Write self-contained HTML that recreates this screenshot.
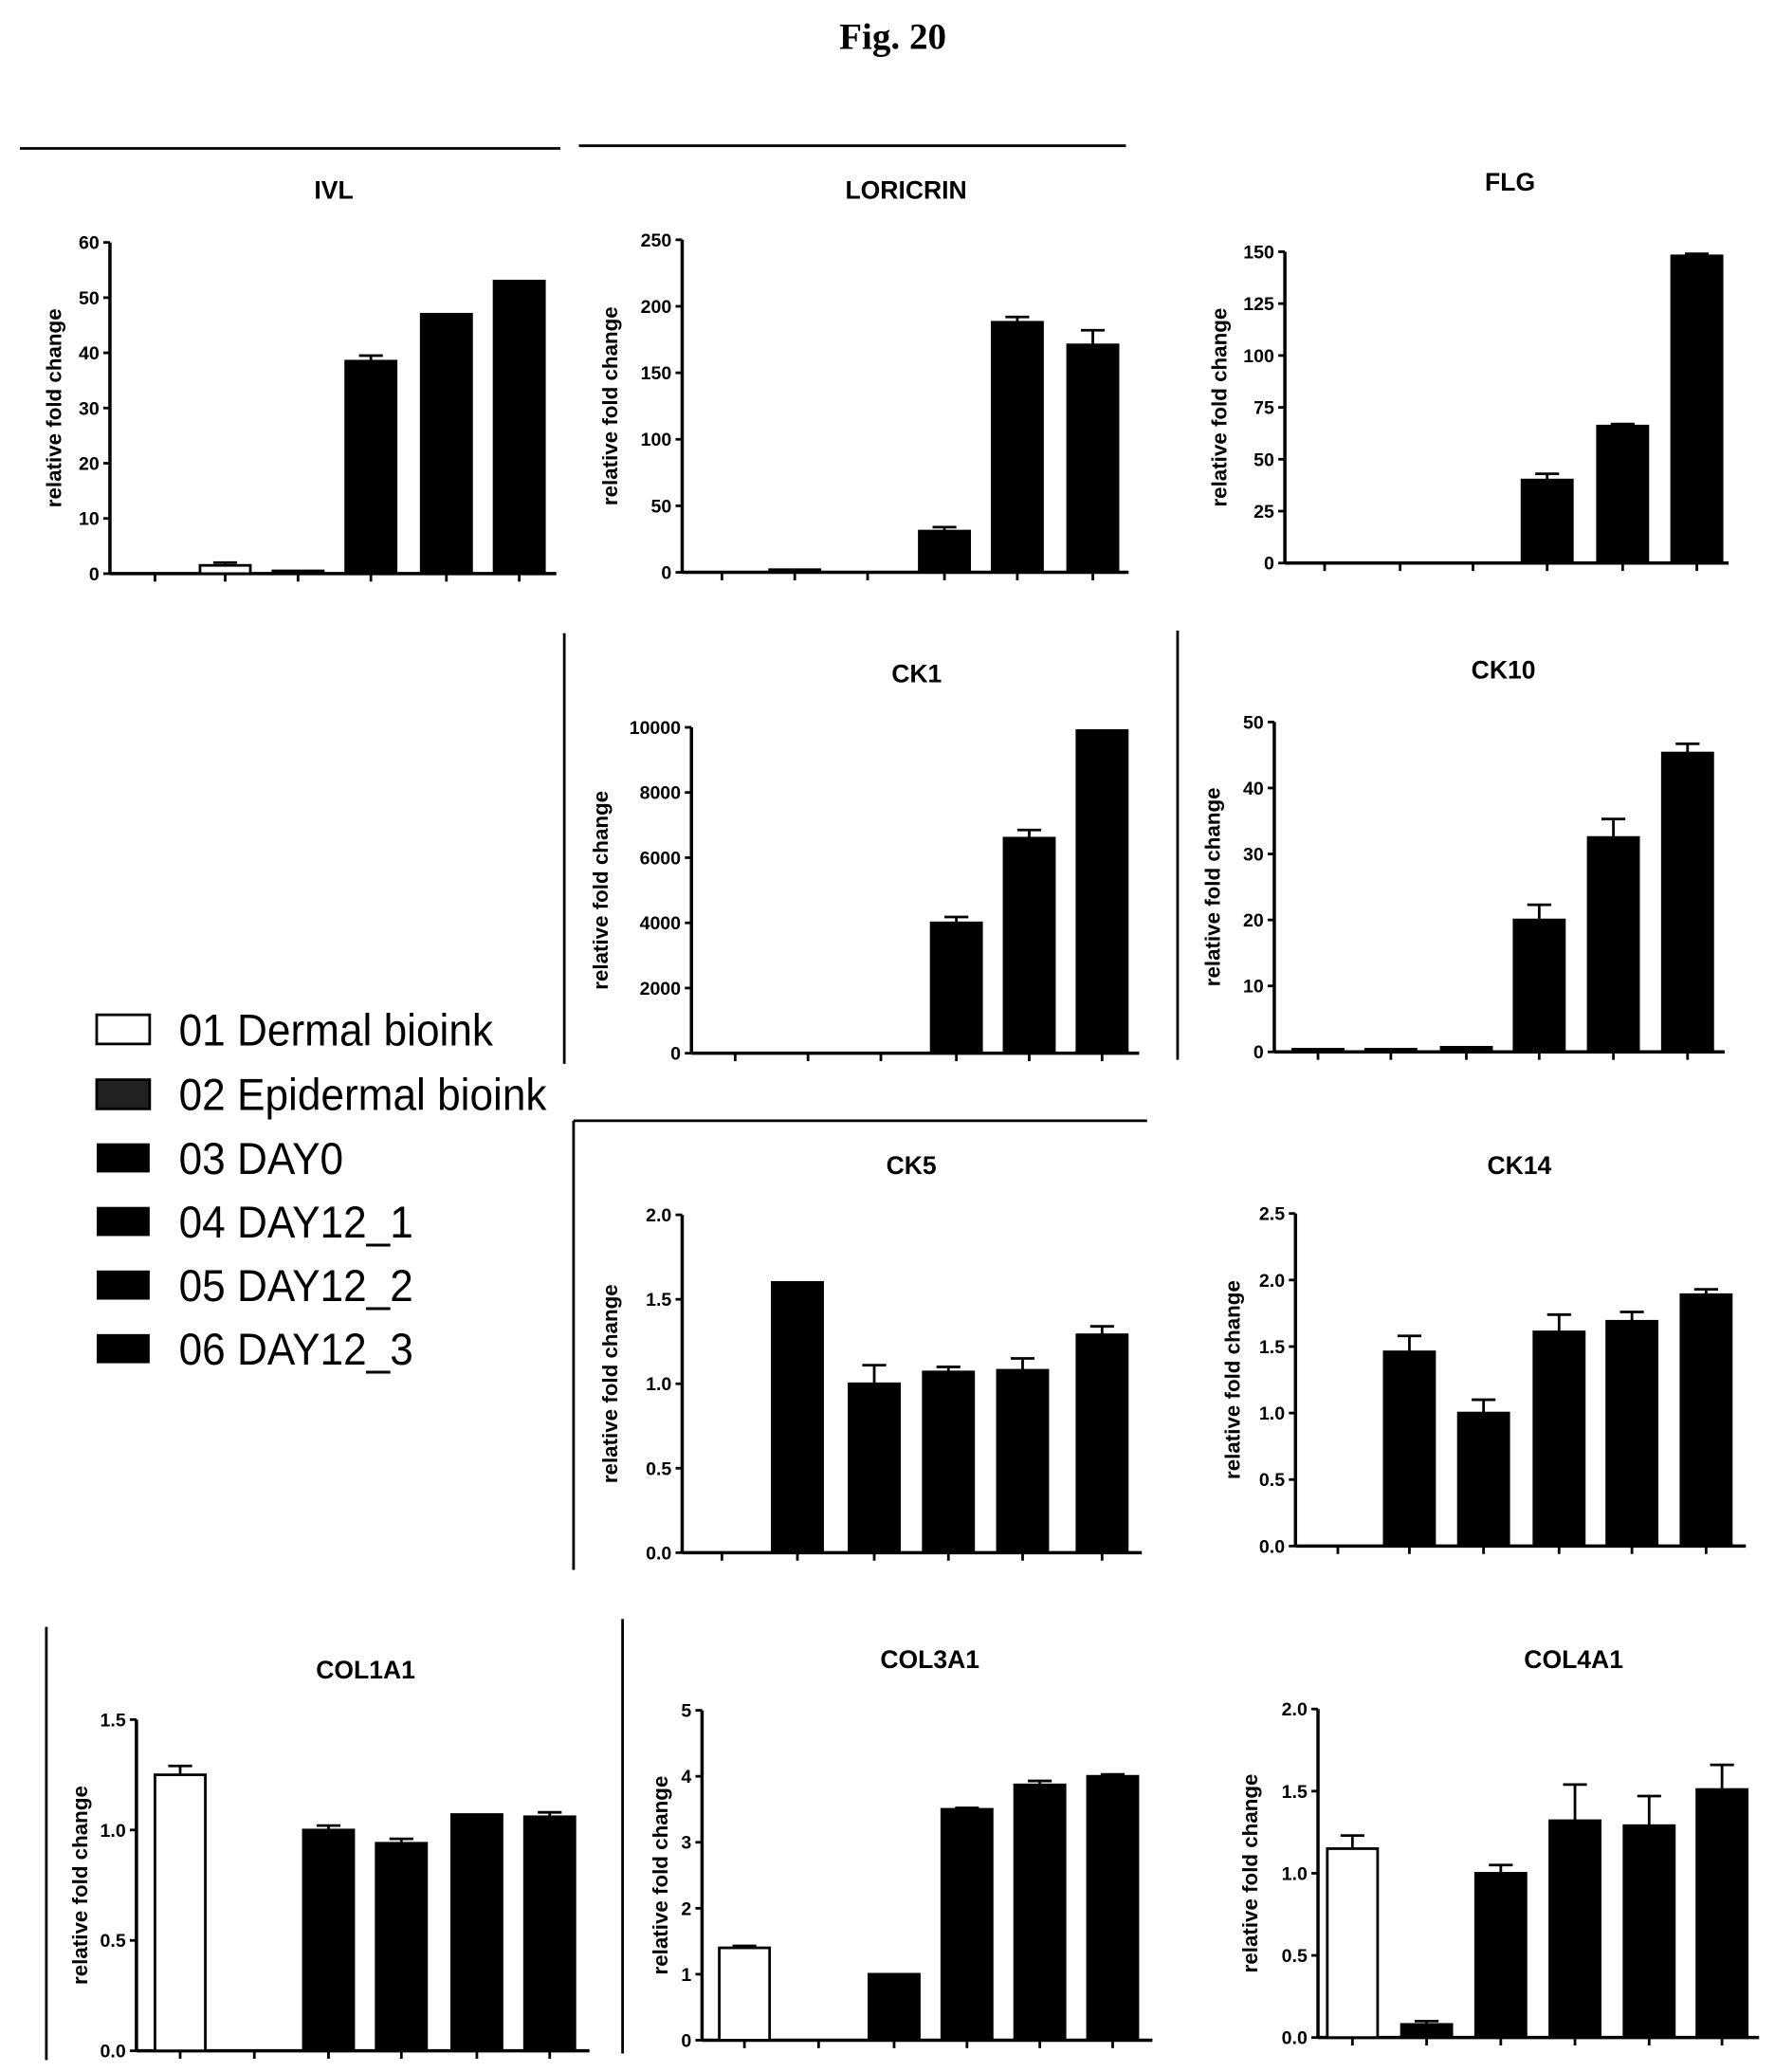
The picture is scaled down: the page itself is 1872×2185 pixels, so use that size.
<!DOCTYPE html>
<html><head><meta charset="utf-8"><style>
html,body{margin:0;padding:0;background:#fff}
svg{display:block}
</style></head><body>
<svg id="s" width="1872" height="2185" viewBox="0 0 1340 1564" preserveAspectRatio="none" xmlns="http://www.w3.org/2000/svg" font-family="'Liberation Sans', sans-serif">
<rect width="1340" height="1564" fill="#fff"/>
<text x="674" y="37" font-family="'Liberation Serif', serif" font-weight="bold" font-size="28" text-anchor="middle">Fig. 20</text>
<g stroke="#000" stroke-width="2">
<line x1="15" y1="112" x2="423" y2="112"/>
<line x1="437" y1="110" x2="850" y2="110"/>
<line x1="426" y1="478" x2="426" y2="803"/>
<line x1="889" y1="476" x2="889" y2="800"/>
<line x1="433" y1="846" x2="866" y2="846"/>
<line x1="433" y1="846" x2="433" y2="1185"/>
<line x1="35" y1="1228" x2="35" y2="1555"/>
<line x1="470" y1="1222" x2="470" y2="1550"/>
</g>
<rect x="73" y="766" width="40" height="22" fill="#fff" stroke="#000" stroke-width="2"/>
<rect x="73" y="815" width="40" height="22" fill="#222" stroke="#000" stroke-width="2"/>
<rect x="73" y="863" width="40" height="22" fill="#000"/>
<rect x="73" y="911" width="40" height="22" fill="#000"/>
<rect x="73" y="959" width="40" height="22" fill="#000"/>
<rect x="73" y="1007" width="40" height="22" fill="#000"/>
<g font-size="34" transform="translate(135,0) scale(0.93,1)">
<text x="0" y="789">01 Dermal bioink</text>
<text x="0" y="838">02 Epidermal bioink</text>
<text x="0" y="886">03 DAY0</text>
<text x="0" y="934">04 DAY12_1</text>
<text x="0" y="982">05 DAY12_2</text>
<text x="0" y="1030">06 DAY12_3</text>
</g>
<g id="charts"></g>
</svg>
<script>
var charts=[
{t:"IVL",ax:83,top:183,bot:433,max:60,step:10,xend:420,tx:252,ty:150,lx:46,c:[117,170,225,280,337,392],v:[0,1.5,0.5,38.5,47,53],e:[0,0.5,0,1,0,0],w:[0,1,0,0,0,0]},
{t:"LORICRIN",ax:515,top:181,bot:432,max:250,step:50,xend:852,tx:684,ty:150,lx:466,c:[545,600,655,713,768,825],v:[0,1,0,31,188,171],e:[0,0,0,3,4,11],w:[0,0,0,0,0,0]},
{t:"FLG",ax:970,top:190,bot:425,max:150,step:25,xend:1305,tx:1140,ty:144,lx:926,c:[1000,1057,1112,1168,1225,1281],v:[0,0,0,40,66,148],e:[0,0,0,3,1,1],w:[0,0,0,0,0,0]},
{t:"CK1",ax:522,top:549,bot:795,max:10000,step:2000,xend:860,tx:692,ty:515,lx:459,c:[555,610,665,722,777,832],v:[0,0,0,4000,6600,9900],e:[0,0,0,180,250,0],w:[0,0,0,0,0,0]},
{t:"CK10",ax:962,top:545,bot:794,max:50,step:10,xend:1302,tx:1135,ty:512,lx:921,c:[995,1050,1107,1162,1218,1274],v:[0.3,0.2,0.7,20,32.5,45.3],e:[0,0,0,2.3,2.8,1.4],w:[0,0,0,0,0,0]},
{t:"CK5",ax:515,top:917,bot:1172,max:2,step:0.5,xend:862,tx:688,ty:886,lx:466,c:[545,602,660,716,772,832],v:[0,1.6,1.0,1.07,1.08,1.29],e:[0,0,0.11,0.03,0.07,0.05],w:[0,0,0,0,0,0]},
{t:"CK14",ax:978,top:916,bot:1167,max:2.5,step:0.5,xend:1318,tx:1147,ty:886,lx:936,c:[1010,1064,1120,1177,1232,1288],v:[0,1.46,1.0,1.61,1.69,1.89],e:[0,0.12,0.1,0.13,0.07,0.04],w:[0,0,0,0,0,0]},
{t:"COL1A1",ax:103,top:1298,bot:1548,max:1.5,step:0.5,xend:445,tx:276,ty:1267,lx:66,c:[136,192,248,303,360,415],v:[1.25,0,1.0,0.94,1.07,1.06],e:[0.04,0,0.02,0.02,0,0.02],w:[1,0,0,0,0,0]},
{t:"COL3A1",ax:530,top:1291,bot:1540,max:5,step:1,xend:870,tx:702,ty:1259,lx:504,c:[562,618,675,730,785,840],v:[1.4,0,1.0,3.5,3.87,4.0],e:[0.03,0,0,0.02,0.06,0.03],w:[1,0,0,0,0,0]},
{t:"COL4A1",ax:995,top:1290,bot:1538,max:2,step:0.5,xend:1328,tx:1188,ty:1259,lx:949,c:[1021,1077,1133,1189,1245,1300],v:[1.15,0.08,1.0,1.32,1.29,1.51],e:[0.08,0.02,0.05,0.22,0.18,0.15],w:[1,0,0,0,0,0]}
];
var h='';
charts.forEach(function(c){
 var sc=(c.bot-c.top)/c.max;
 h+='<text x="'+c.tx+'" y="'+c.ty+'" font-size="19" font-weight="bold" text-anchor="middle">'+c.t+'</text>';
 var cy=(c.top+c.bot)/2;
 h+='<text transform="translate('+c.lx+','+cy+') rotate(-90)" font-size="16" font-weight="bold" text-anchor="middle">relative fold change</text>';
 h+='<line x1="'+c.ax+'" y1="'+c.top+'" x2="'+c.ax+'" y2="'+c.bot+'" stroke="#000" stroke-width="2.5"/>';
 h+='<line x1="'+c.ax+'" y1="'+c.bot+'" x2="'+c.xend+'" y2="'+c.bot+'" stroke="#000" stroke-width="2.5"/>';
 var dec=c.step<1?1:0;
 for(var v=0;v<=c.max+1e-9;v+=c.step){
  var y=c.bot-v*sc;
  h+='<line x1="'+(c.ax-5)+'" y1="'+y+'" x2="'+c.ax+'" y2="'+y+'" stroke="#000" stroke-width="2"/>';
  h+='<text x="'+(c.ax-8)+'" y="'+(y+5)+'" font-size="14" font-weight="bold" text-anchor="end">'+v.toFixed(dec)+'</text>';
 }
 c.c.forEach(function(x,i){
  h+='<line x1="'+x+'" y1="'+c.bot+'" x2="'+x+'" y2="'+(c.bot+6)+'" stroke="#000" stroke-width="2"/>';
  var val=c.v[i]; if(val<=0)return;
  var y=c.bot-val*sc, bh=Math.max(val*sc,2);
  h+='<rect x="'+(x-19)+'" y="'+(c.bot-bh)+'" width="38" height="'+bh+'" fill="'+(c.w[i]?'#fff':'#000')+'" stroke="#000" stroke-width="2"/>';
  if(c.e[i]>0){var ye=y-c.e[i]*sc;
   h+='<line x1="'+x+'" y1="'+y+'" x2="'+x+'" y2="'+ye+'" stroke="#000" stroke-width="2"/>';
   h+='<line x1="'+(x-9)+'" y1="'+ye+'" x2="'+(x+9)+'" y2="'+ye+'" stroke="#000" stroke-width="2"/>';}
 });
});
document.getElementById('charts').innerHTML=h;
</script>
</body></html>
